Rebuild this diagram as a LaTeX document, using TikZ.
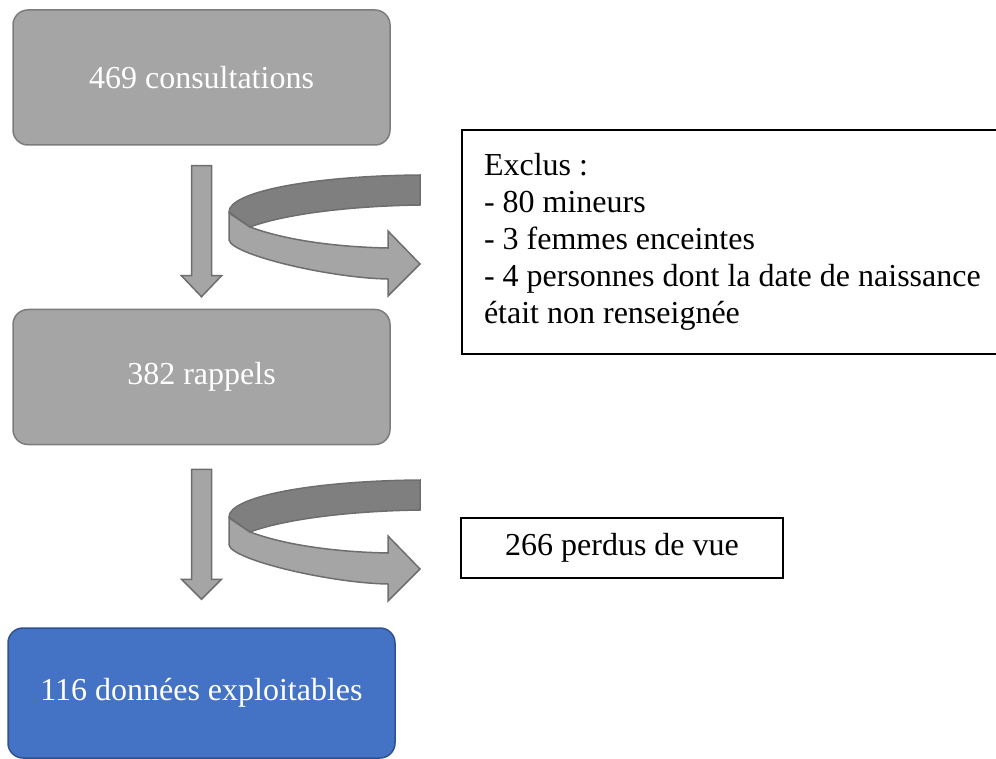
\documentclass[tikz,border=0pt]{standalone}
\usepackage{fontspec}
\setmainfont{Liberation Serif}
\definecolor{boxgray}{HTML}{A5A5A5}
\definecolor{boxgrayline}{HTML}{7C7C7C}
\definecolor{darkband}{HTML}{7F7F7F}
\definecolor{bandline}{HTML}{6E6E6E}
\definecolor{boxblue}{HTML}{4472C4}
\definecolor{boxblueline}{HTML}{2F528F}
\tikzset{
  stepbox/.style={draw=boxgrayline, fill=boxgray, line width=1.5pt, rounded corners=15pt,
    minimum width=377pt, minimum height=135pt, text=white, font=\fontsize{32}{37}\selectfont},
  finalbox/.style={stepbox, draw=boxblueline, fill=boxblue, minimum width=387pt, minimum height=130pt},
  notebox/.style={draw=black, line width=2pt, fill=white, font=\fontsize{32}{37}\selectfont},
  blockarrow/.style={draw=bandline, fill=boxgray, line width=1.5pt, line join=miter},
  uturn/.pic={
    \path[blockarrow] (0,38) -- (21,52) .. controls (56,65) and (106,72) .. (159,73)
      -- (159,56) -- (191,89) -- (159,121) -- (159,104)
      .. controls (101,103) and (3,80) .. (0,65) -- cycle;
    \path[blockarrow, fill=darkband] (191,0) .. controls (81,1) and (0,17) .. (0,37)
      -- (21,52) .. controls (56,39) and (121,31) .. (191,30) -- cycle;
  }
}
\begin{document}
\begin{tikzpicture}[x=1pt,y=-1pt]
\useasboundingbox (0,0) rectangle (996,759);
\clip (0,0) rectangle (996,759);

\node[stepbox] (c1) at (201.5,77.5) {469 consultations};
\node[stepbox] (c2) at (201.5,377) {382 rappels};
\node[finalbox] (c3) at (201.5,693) {116 données exploitables};

\node[notebox, anchor=north west, align=left,
  text width=600pt, inner xsep=22pt, minimum height=224pt] (excl) at (461,129)
  {\spaceskip=0pt\xspaceskip=0pt\relax Exclus :\\- 80 mineurs\\- 3 femmes enceintes\\- 4 personnes dont la date de naissance\\était non renseignée};
\node[notebox, minimum width=322pt, minimum height=60pt] (lost) at (622,548) {266 perdus de vue};

\begin{scope}[shift={(c1.south)}]
  \path[blockarrow] (-10,20) -- (10,20) -- (10,130) -- (20,130) -- (0,151) -- (-20,130) -- (-10,130) -- cycle;
\end{scope}
\begin{scope}[shift={(c2.south)}]
  \path[blockarrow] (-10,24) -- (10,24) -- (10,134) -- (20,134) -- (0,154) -- (-20,134) -- (-10,134) -- cycle;
\end{scope}

\pic at (229,175) {uturn};
\pic at (229,480) {uturn};
\end{tikzpicture}
\end{document}
